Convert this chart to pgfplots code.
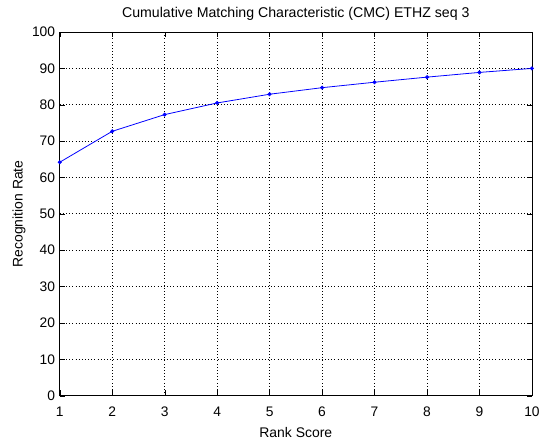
\documentclass[border=0pt]{standalone}
\usepackage{fontspec}
\setmainfont{Liberation Sans}
\usepackage{pgfplots}
\pgfplotsset{compat=1.18}
\begin{document}
\begin{tikzpicture}[x=1pt,y=1pt]
\path (-45.4pt,-30pt) (362.6pt,300.75pt);
\begin{axis}[
  at={(0,0)}, anchor=south west,
  scale only axis, width=358.9pt, height=276.4pt,
  xmin=1, xmax=10, ymin=0, ymax=100,
  xtick={1,...,10}, ytick={0,10,...,100},
  tick align=inside, major tick length=4pt,
  xtick pos=both, ytick pos=both,
  grid=major, major grid style={black, dotted, line width=0.6pt},
  axis line style={black, line width=0.5pt},
  tick style={black},
  /pgf/number format/assume math mode=true,
  ticklabel style={font=\fontsize{10.5}{12}\selectfont},
  xticklabel style={yshift=-5pt},
  label style={font=\fontsize{10.6}{12}\selectfont},
  title style={font=\fontsize{10.75}{13}\selectfont, yshift=-1pt},
  title={Cumulative Matching Characteristic (CMC) ETHZ seq 3},
  xlabel={Rank Score}, ylabel={Recognition Rate},
  xlabel style={yshift=-1pt}, ylabel style={yshift=-2pt},
]
\addplot[blue, line width=0.6pt, mark=*, mark size=1.2pt] coordinates {
(1,64.2) (2,72.7) (3,77.3) (4,80.5) (5,82.9) (6,84.7) (7,86.2) (8,87.6) (9,88.9) (10,90.0)
};
\end{axis}
\end{tikzpicture}
\end{document}
